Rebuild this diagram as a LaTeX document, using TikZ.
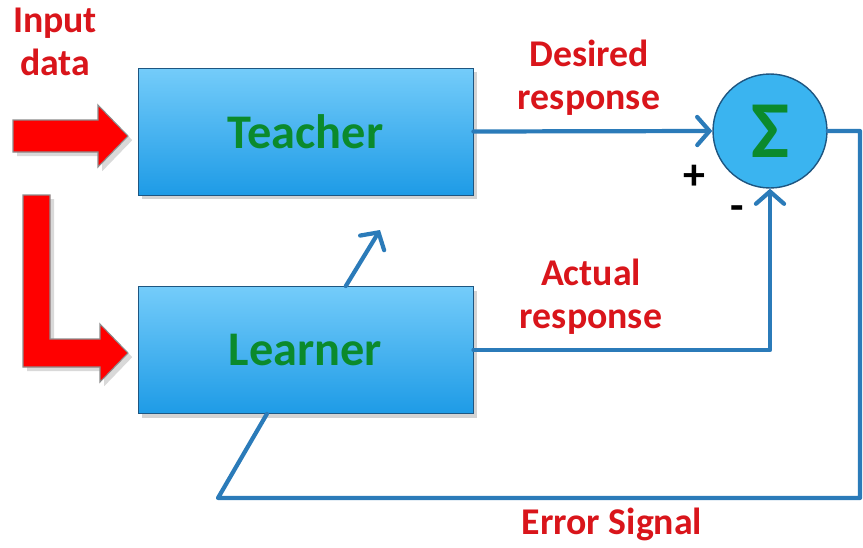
\documentclass[tikz,border=0pt]{standalone}
\usepackage{fontspec}
\setmainfont{Carlito}
\usetikzlibrary{arrows.meta,shadows,calc}
\definecolor{boxtop}{HTML}{74CCFA}
\definecolor{boxbot}{HTML}{1E9BE6}
\definecolor{wire}{HTML}{2B7BB9}
\definecolor{labred}{HTML}{D9151B}
\definecolor{labgreen}{HTML}{0B8A2C}
\definecolor{sumfill}{HTML}{3AB4F0}
\tikzset{
  blockbox/.style={draw=wire!70!black,line width=0.5pt,top color=boxtop,bottom color=boxbot,
    minimum width=6.7cm,minimum height=2.54cm,drop shadow={opacity=0.35},
    font=\fontsize{27.5}{27.5}\selectfont\bfseries,text=labgreen},
  redlab/.style={font=\fontsize{21.5}{24.5}\selectfont\bfseries,text=labred,align=center},
  signlab/.style={font=\fontsize{25}{25}\selectfont\bfseries},
  wireline/.style={wire,line width=2.4pt,line cap=round,line join=round},
  conn/.style={wireline,-{Straight Barb[length=7pt,width=16pt,line cap=round]}},
  bigarrow/.style={fill=red,draw=black!45,line width=0.6pt,drop shadow={opacity=0.3}}
}
\begin{document}
\begin{tikzpicture}[x=0.02cm,y=-0.02cm]
			\useasboundingbox (0,0) rectangle (863,548);
			% boxes
			\node[blockbox] (teacher) at (305.5,131.5) {Teacher};
			\node[blockbox] (learner) at (305.5,350) {Learner};
			\node[circle,draw=wire!70!black,line width=0.8pt,fill=sumfill,minimum size=2.28cm,inner sep=0pt,
			  font=\fontsize{46}{46}\selectfont\bfseries,text=labgreen] (sum) at (770,131) {Σ};
			% input arrows
			\draw[bigarrow] (13,120)--(98,120)--(98,105)--(128,136)--(98,167)--(98,152)--(13,152)--cycle;
			\draw[bigarrow] (23,195)--(50,195)--(50,339)--(100,339)--(100,324)--(128,353)--(100,382)--(100,367)--(23,367)--cycle;
			% labels
			\node[redlab] (input) at (55,42) {Input\\data};
			\node[redlab] (desired) at (589,78) {Desired\\response};
			\node[redlab] (actual) at (591,297) {Actual\\response};
			\node[redlab] (error) at (612,524) {Error Signal};
			\node[signlab] (plus) at (694,177) {+};
			\node[signlab] (minus) at (737,213) {-};
			% connectors
			\draw[conn] (teacher.east) -- (sum.west);
			\draw[conn] (learner.east) -| (sum.south);
			\coordinate (errright) at (860,498);
			\coordinate (errleft) at (218,498);
			\coordinate (errin) at ($(learner.south west)!0.385!(learner.south east)$);
			\draw[wireline] (sum.east) -| (errright) -- (errleft) -- (errin);
			\coordinate (updfrom) at ($(learner.north west)!0.62!(learner.north east)$);
			\coordinate (updto) at (380,230);
			\draw[conn] (updfrom) -- (updto);
		\end{tikzpicture}
\end{document}
